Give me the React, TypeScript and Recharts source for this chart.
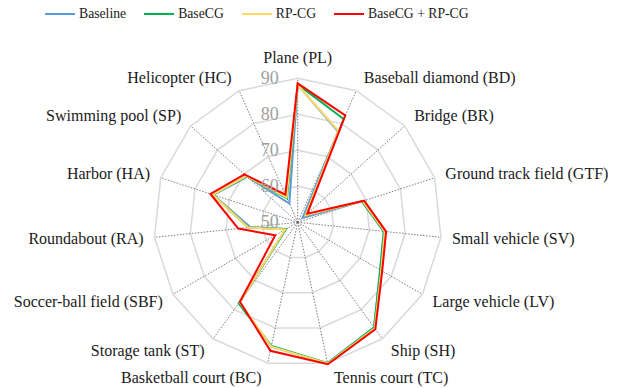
import {
  Legend,
  PolarAngleAxis,
  PolarGrid,
  PolarRadiusAxis,
  Radar,
  RadarChart,
} from "recharts";

const categories = [
  "Plane (PL)",
  "Baseball diamond (BD)",
  "Bridge (BR)",
  "Ground track field (GTF)",
  "Small vehicle (SV)",
  "Large vehicle (LV)",
  "Ship (SH)",
  "Tennis court (TC)",
  "Basketball court (BC)",
  "Storage tank (ST)",
  "Soccer-ball field (SBF)",
  "Roundabout (RA)",
  "Harbor (HA)",
  "Swimming pool (SP)",
  "Helicopter (HC)",
];

const baseline = [88.2, 77.6, 51.8, 68.8, 74.0, 76.4, 86.1, 90.0, 85.3, 77.6, 53.8, 63.2, 74.6, 68.9, 55.7];
const baseCG = [88.3, 81.4, 53.0, 68.8, 74.1, 76.5, 86.1, 90.0, 85.1, 77.9, 53.7, 63.8, 74.8, 69.1, 57.3];
const rpCG = [88.2, 77.8, 52.9, 69.0, 74.3, 76.8, 86.4, 90.1, 85.3, 77.4, 54.0, 63.8, 74.8, 69.2, 57.6];
const combined = [88.6, 82.5, 53.6, 69.4, 74.7, 77.1, 86.7, 90.3, 86.5, 77.3, 57.2, 66.6, 75.5, 69.9, 58.4];

const radiusTicks = [50, 60, 70, 80, 90];

const series = [
  { key: "baseline", name: "Baseline", color: "#5b9bd5" },
  { key: "baseCG", name: "BaseCG", color: "#00b050" },
  { key: "rpCG", name: "RP-CG", color: "#ffd966" },
  { key: "combined", name: "BaseCG + RP-CG", color: "#ff0000" },
];

const data = categories.map((name, i) => ({
  name,
  baseline: baseline[i],
  baseCG: baseCG[i],
  rpCG: rpCG[i],
  combined: combined[i],
}));

const FONT = '"Liberation Serif", serif';

// category labels sit just past the end of each spoke
function AngleTick(props: any) {
  const { x, y, payload, textAnchor } = props;
  const sin = Math.sin((payload.coordinate * Math.PI) / 180);
  const dx = textAnchor === "start" ? 5 : textAnchor === "end" ? -5 : 0;
  const dy = -sin * 9 + (textAnchor === "middle" ? -6 : 0);
  return (
    <text
      x={x + dx}
      y={y + dy}
      textAnchor={textAnchor}
      dominantBaseline="central"
      fontFamily={FONT}
      fontSize={16}
      fill="#1a1a1a"
    >
      {payload.value}
    </text>
  );
}

function RadiusTick(props: any) {
  const { x, y, payload } = props;
  return (
    <text
      x={x - 19}
      y={y}
      textAnchor="end"
      dominantBaseline="central"
      fontFamily={FONT}
      fontSize={18}
      fill="#a0a0a0"
    >
      {payload.value}
    </text>
  );
}

function LegendContent() {
  return (
    <div
      style={{
        display: "flex",
        alignItems: "center",
        paddingLeft: 45,
        height: 28,
        fontFamily: FONT,
        fontSize: 13.7,
        color: "#1a1a1a",
      }}
    >
      {series.map((s) => (
        <div key={s.key} style={{ display: "flex", alignItems: "center", marginRight: 18 }}>
          <span
            style={{ display: "inline-block", width: 30, height: 2, background: s.color, marginRight: 4 }}
          />
          <span>{s.name}</span>
        </div>
      ))}
    </div>
  );
}

export default function App() {
  return (
    <div style={{ position: "absolute", left: 0, top: 0, width: 622, height: 388, background: "#fff" }}>
      <RadarChart
        width={622}
        height={388}
        data={data}
        cx={297.7}
        cy={222.3}
        outerRadius={144}
        margin={{ top: 0, right: 0, bottom: 0, left: 0 }}
      >
        <Legend
          verticalAlign="top"
          align="left"
          content={<LegendContent />}
          wrapperStyle={{ top: 0, left: 0, width: 622 }}
        />
        <PolarGrid gridType="polygon" radialLines={false} stroke="#d9d9d9" strokeWidth={1.5} />
        <PolarGrid
          gridType="polygon"
          polarRadius={[]}
          outerRadius={150}
          stroke="#6e6e6e"
          strokeWidth={0.9}
          strokeDasharray="1.5 1.5"
        />
        <PolarAngleAxis
          dataKey="name"
          axisLine={false}
          tickLine={false}
          tickSize={6}
          tick={<AngleTick />}
        />
        <PolarRadiusAxis
          angle={90}
          type="number"
          domain={[50, 90]}
          ticks={radiusTicks}
          allowDataOverflow
          axisLine={false}
          tickLine={false}
          tick={<RadiusTick />}
        />
        {series.map((s) => (
          <Radar
            key={s.key}
            dataKey={s.key}
            name={s.name}
            stroke={s.color}
            strokeWidth={2}
            fill="none"
            fillOpacity={0}
            dot={false}
            isAnimationActive={false}
          />
        ))}
      </RadarChart>
    </div>
  );
}
